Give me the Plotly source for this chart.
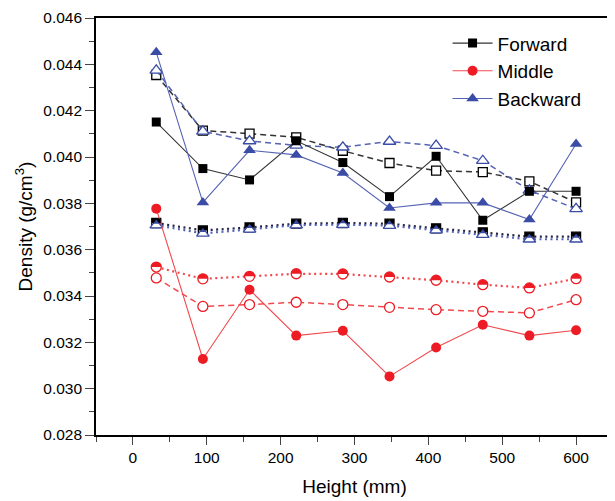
import plotly.graph_objects as go

height_mm = [31.6, 94.7, 157.9, 221.1, 284.2, 347.4, 410.5, 473.7, 536.8, 600.0]

fwd_solid = [0.04151, 0.03950, 0.03901, 0.04070, 0.03976, 0.03829, 0.04003, 0.03727, 0.03852, 0.03852]
fwd_dash = [0.04354, 0.04114, 0.04101, 0.04085, 0.04027, 0.03974, 0.03941, 0.03935, 0.03895, 0.03804]
fwd_dot = [0.03715, 0.03683, 0.03696, 0.03712, 0.03715, 0.03712, 0.03692, 0.03675, 0.03656, 0.03656]

mid_solid = [0.03777, 0.03128, 0.03427, 0.03229, 0.03250, 0.03053, 0.03178, 0.03276, 0.03229, 0.03252]
mid_dash = [0.03478, 0.03355, 0.03363, 0.03373, 0.03363, 0.03351, 0.03341, 0.03334, 0.03327, 0.03384]
mid_dot = [0.03525, 0.03474, 0.03485, 0.03496, 0.03495, 0.03482, 0.03468, 0.03449, 0.03435, 0.03475]

bwd_solid = [0.04452, 0.03804, 0.04029, 0.04009, 0.03931, 0.03780, 0.03802, 0.03802, 0.03730, 0.04056]
bwd_dash = [0.04374, 0.04111, 0.04069, 0.04050, 0.04042, 0.04067, 0.04049, 0.03984, 0.03856, 0.03776]
bwd_dot = [0.03706, 0.03670, 0.03688, 0.03706, 0.03708, 0.03704, 0.03684, 0.03665, 0.03645, 0.03645]

BLACK = "#000000"
BLACK_LINE = "#333333"
RED = "#ED1C24"
RED_LINE = "#F04A4F"
BLUE = "#3A4CA6"
BLUE_LINE = "#5563B4"

FONT = "Liberation Sans, Arial, sans-serif"
TRI = 11

fig = go.Figure()


def add(y, name, color, line_color, symbol, size, style, show):
    if style == "solid":
        marker = dict(symbol=symbol, size=size, color=color, line=dict(width=0))
        line = dict(color=line_color, width=1.1, dash="solid")
    elif style == "dash":
        marker = dict(symbol=symbol, size=size, color="white", line=dict(width=1.3, color=color))
        line = dict(color=line_color, width=1.5, dash="6px,4px")
    else:
        marker = dict(symbol=symbol, size=size, color="white", line=dict(width=1.3, color=color))
        line = dict(color=line_color, width=2.2, dash="2px,3.5px")
    fig.add_trace(go.Scatter(x=height_mm, y=y, mode="lines+markers", name=name,
                             marker=marker, line=line, showlegend=show))


# dashed & dotted first, solid on top
add(fwd_dash, "Forward", BLACK, BLACK_LINE, "square", 9, "dash", False)
add(bwd_dash, "Backward", BLUE, BLUE_LINE, "triangle-up", TRI, "dash", False)
add(mid_dash, "Middle", RED, RED_LINE, "circle", 10, "dash", False)
add(fwd_dot, "Forward", BLACK, "#222244", "square", 9, "dot", False)
add(bwd_dot, "Backward", BLUE, BLUE_LINE, "triangle-up", TRI, "dot", False)
add(mid_dot, "Middle", RED, RED_LINE, "circle", 10, "dot", False)
add(fwd_solid, "Forward", BLACK, BLACK_LINE, "square", 9, "solid", True)
add(mid_solid, "Middle", RED, RED_LINE, "circle", 10, "solid", True)
add(bwd_solid, "Backward", BLUE, BLUE_LINE, "triangle-up", TRI, "solid", True)

# half-filled markers (top half filled) for dotted series
shapes = []
k = 0.5523
r = 5.0
circ_path = (f"M {-r},0 C {-r},{k*r} {-k*r},{r} 0,{r} "
             f"C {k*r},{r} {r},{k*r} {r},0 Z")
rtri = TRI / 2
rt = rtri * 2 / 3 ** 0.5
tri_path = f"M {-rt/2:.2f},{rtri/4:.2f} L 0,{rtri:.2f} L {rt/2:.2f},{rtri/4:.2f} Z"
sq_path = "M -4.5,0 L -4.5,4.5 L 4.5,4.5 L 4.5,0 Z"
for ys, path, col in [(fwd_dot, sq_path, BLACK), (bwd_dot, tri_path, BLUE), (mid_dot, circ_path, RED)]:
    for xv, yv in zip(height_mm, ys):
        shapes.append(dict(type="path", path=path, xref="x", yref="y",
                           xsizemode="pixel", ysizemode="pixel",
                           xanchor=xv, yanchor=yv, fillcolor=col,
                           line=dict(width=0), layer="above"))

fig.update_layout(
    width=615, height=501,
    margin=dict(l=88, r=10, t=10, b=74),
    paper_bgcolor="white", plot_bgcolor="white",
    font=dict(family=FONT, color="black", size=15.5),
    shapes=shapes,
    legend=dict(x=0.68, y=0.985, xanchor="left", yanchor="top",
                bgcolor="rgba(0,0,0,0)", borderwidth=0,
                font=dict(size=19, family=FONT), itemwidth=40,
                tracegroupgap=0),
    xaxis=dict(range=[-50, 650], tick0=0, dtick=100, ticks="outside", ticklen=8,
               tickwidth=1.3, showline=True, linewidth=1.6, linecolor="black",
               mirror=True, showgrid=False, zeroline=False, automargin=False,
               minor=dict(dtick=50, tick0=0, ticks="outside", ticklen=5, tickwidth=1.3, showgrid=False),
               title=dict(text="Height (mm)", font=dict(size=19), standoff=14),
               tickfont=dict(size=15.5)),
    yaxis=dict(range=[0.028, 0.046], tick0=0.028, dtick=0.002, tickformat=".3f",
               ticks="outside", ticklen=9, tickwidth=1.3, showline=True, linewidth=1.6,
               linecolor="black", mirror=True, showgrid=False, zeroline=False, automargin=False,
               minor=dict(dtick=0.001, ticks="outside", ticklen=5, tickwidth=1.3, showgrid=False),
               title=dict(text="Density (g/cm<sup>3</sup>)", font=dict(size=19), standoff=6),
               tickfont=dict(size=15.5)),
)

fig.write_html("out.html")
